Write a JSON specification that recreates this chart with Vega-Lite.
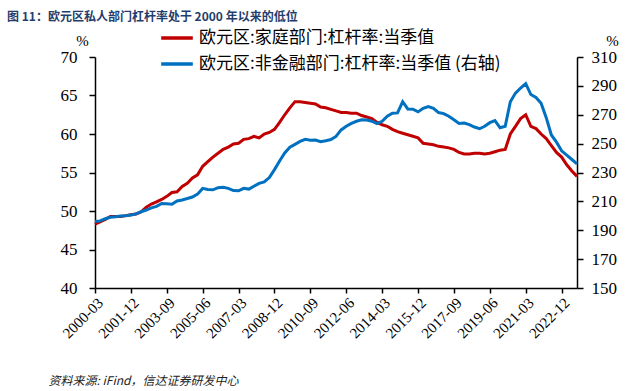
{
  "$schema": "https://vega.github.io/schema/vega-lite/v6.json",
  "width": 482,
  "height": 231,
  "autosize": {"type": "none"},
  "padding": {"left": 95, "top": 57, "right": 67, "bottom": 103},
  "background": "white",
  "title": {
    "text": "图 11：欧元区私人部门杠杆率处于 2000 年以来的低位",
    "anchor": "start",
    "frame": "group",
    "dx": -88,
    "dy": 2,
    "offset": -2,
    "fontSize": 12,
    "fontWeight": "bold",
    "color": "#1f3e6d",
    "font": "Noto Sans CJK SC"
  },
  "config": {
    "view": {"stroke": null},
    "axis": {
      "grid": false,
      "domainColor": "#000",
      "domainWidth": 1.5,
      "tickColor": "#000",
      "tickWidth": 1.5,
      "tickSize": 6,
      "labelColor": "#000",
      "labelFont": "serif",
      "titleFont": "serif",
      "titleFontWeight": "normal",
      "titleColor": "#000"
    },
    "legend": {
      "orient": "none",
      "legendX": 64,
      "legendY": -37,
      "direction": "vertical",
      "symbolType": "stroke",
      "symbolSize": 1000,
      "symbolStrokeWidth": 3.5,
      "labelFont": "Noto Sans CJK SC",
      "labelFontSize": 17,
      "labelColor": "#000",
      "labelLimit": 0,
      "rowPadding": -14,
      "labelOffset": 4,
      "title": null
    }
  },
  "data": {
    "values": [
      {"d": "2000-03", "hh": 48.3, "nf": 196},
      {"d": "2000-06", "hh": 48.6, "nf": 196.5},
      {"d": "2000-09", "hh": 48.9, "nf": 198},
      {"d": "2000-12", "hh": 49.3, "nf": 199},
      {"d": "2001-03", "hh": 49.3, "nf": 199.3},
      {"d": "2001-06", "hh": 49.3, "nf": 199.8},
      {"d": "2001-09", "hh": 49.4, "nf": 200},
      {"d": "2001-12", "hh": 49.5, "nf": 200.5},
      {"d": "2002-03", "hh": 49.6, "nf": 201.3},
      {"d": "2002-06", "hh": 49.9, "nf": 202.8},
      {"d": "2002-09", "hh": 50.5, "nf": 204},
      {"d": "2002-12", "hh": 50.9, "nf": 205.5},
      {"d": "2003-03", "hh": 51.2, "nf": 206.5},
      {"d": "2003-06", "hh": 51.5, "nf": 208.5},
      {"d": "2003-09", "hh": 51.9, "nf": 208.3},
      {"d": "2003-12", "hh": 52.4, "nf": 208},
      {"d": "2004-03", "hh": 52.5, "nf": 210.3},
      {"d": "2004-06", "hh": 53.2, "nf": 211},
      {"d": "2004-09", "hh": 53.6, "nf": 212},
      {"d": "2004-12", "hh": 54.3, "nf": 213},
      {"d": "2005-03", "hh": 54.7, "nf": 215},
      {"d": "2005-06", "hh": 55.8, "nf": 219},
      {"d": "2005-09", "hh": 56.4, "nf": 218.3},
      {"d": "2005-12", "hh": 57.0, "nf": 218},
      {"d": "2006-03", "hh": 57.5, "nf": 219.5},
      {"d": "2006-06", "hh": 58.0, "nf": 219.8},
      {"d": "2006-09", "hh": 58.3, "nf": 219},
      {"d": "2006-12", "hh": 58.7, "nf": 217.5},
      {"d": "2007-03", "hh": 58.8, "nf": 217.3},
      {"d": "2007-06", "hh": 59.3, "nf": 219},
      {"d": "2007-09", "hh": 59.4, "nf": 218.5},
      {"d": "2007-12", "hh": 59.7, "nf": 220.5},
      {"d": "2008-03", "hh": 59.5, "nf": 222.5},
      {"d": "2008-06", "hh": 60.0, "nf": 223.5},
      {"d": "2008-09", "hh": 60.2, "nf": 226.5},
      {"d": "2008-12", "hh": 60.6, "nf": 232},
      {"d": "2009-03", "hh": 61.5, "nf": 238},
      {"d": "2009-06", "hh": 62.5, "nf": 243.5},
      {"d": "2009-09", "hh": 63.4, "nf": 247.5},
      {"d": "2009-12", "hh": 64.2, "nf": 249.5},
      {"d": "2010-03", "hh": 64.2, "nf": 251.5},
      {"d": "2010-06", "hh": 64.1, "nf": 253},
      {"d": "2010-09", "hh": 64.0, "nf": 252.3},
      {"d": "2010-12", "hh": 63.9, "nf": 252.5},
      {"d": "2011-03", "hh": 63.5, "nf": 251.3},
      {"d": "2011-06", "hh": 63.4, "nf": 252},
      {"d": "2011-09", "hh": 63.2, "nf": 252.8},
      {"d": "2011-12", "hh": 63.0, "nf": 255},
      {"d": "2012-03", "hh": 62.8, "nf": 259.5},
      {"d": "2012-06", "hh": 62.8, "nf": 262},
      {"d": "2012-09", "hh": 62.7, "nf": 264},
      {"d": "2012-12", "hh": 62.7, "nf": 265.5},
      {"d": "2013-03", "hh": 62.4, "nf": 266.5},
      {"d": "2013-06", "hh": 62.2, "nf": 266.3},
      {"d": "2013-09", "hh": 62.0, "nf": 265.5},
      {"d": "2013-12", "hh": 61.5, "nf": 263.8},
      {"d": "2014-03", "hh": 61.2, "nf": 265.5},
      {"d": "2014-06", "hh": 61.0, "nf": 269},
      {"d": "2014-09", "hh": 60.6, "nf": 271},
      {"d": "2014-12", "hh": 60.3, "nf": 271.3},
      {"d": "2015-03", "hh": 60.1, "nf": 279},
      {"d": "2015-06", "hh": 59.9, "nf": 274},
      {"d": "2015-09", "hh": 59.7, "nf": 273.8},
      {"d": "2015-12", "hh": 59.5, "nf": 272},
      {"d": "2016-03", "hh": 58.8, "nf": 274.5},
      {"d": "2016-06", "hh": 58.7, "nf": 275.7},
      {"d": "2016-09", "hh": 58.6, "nf": 274.5},
      {"d": "2016-12", "hh": 58.4, "nf": 271.5},
      {"d": "2017-03", "hh": 58.3, "nf": 270.8},
      {"d": "2017-06", "hh": 58.2, "nf": 269},
      {"d": "2017-09", "hh": 58.0, "nf": 266.5},
      {"d": "2017-12", "hh": 57.6, "nf": 264},
      {"d": "2018-03", "hh": 57.4, "nf": 264.3},
      {"d": "2018-06", "hh": 57.4, "nf": 263.2},
      {"d": "2018-09", "hh": 57.5, "nf": 261.5},
      {"d": "2018-12", "hh": 57.5, "nf": 260.3},
      {"d": "2019-03", "hh": 57.4, "nf": 262},
      {"d": "2019-06", "hh": 57.5, "nf": 264.5},
      {"d": "2019-09", "hh": 57.7, "nf": 266},
      {"d": "2019-12", "hh": 57.9, "nf": 261},
      {"d": "2020-03", "hh": 58.0, "nf": 262},
      {"d": "2020-06", "hh": 60.0, "nf": 279},
      {"d": "2020-09", "hh": 61.0, "nf": 285},
      {"d": "2020-12", "hh": 62.0, "nf": 288.5},
      {"d": "2021-03", "hh": 62.5, "nf": 291.5},
      {"d": "2021-06", "hh": 61.0, "nf": 284},
      {"d": "2021-09", "hh": 60.7, "nf": 282},
      {"d": "2021-12", "hh": 60.0, "nf": 278},
      {"d": "2022-03", "hh": 59.4, "nf": 268},
      {"d": "2022-06", "hh": 58.5, "nf": 256},
      {"d": "2022-09", "hh": 57.6, "nf": 251},
      {"d": "2022-12", "hh": 57.0, "nf": 245},
      {"d": "2023-03", "hh": 56.0, "nf": 242},
      {"d": "2023-06", "hh": 55.2, "nf": 239},
      {"d": "2023-09", "hh": 54.5, "nf": 236}
    ]
  },
  "encoding": {
    "x": {
      "field": "d",
      "type": "ordinal",
      "scale": {"type": "point", "padding": 0},
      "axis": {
        "values": ["2000-03", "2001-12", "2003-09", "2005-06", "2007-03", "2008-12", "2010-09", "2012-06", "2014-03", "2015-12", "2017-09", "2019-06", "2021-03", "2022-12"],
        "labelAngle": -45,
        "labelFontSize": 15,
        "tickSize": 5,
        "labelPadding": 2,
        "title": "资料来源: iFind，信达证券研发中心",
        "titleFont": "Noto Sans CJK SC",
        "titleFontStyle": "italic",
        "titleFontSize": 12,
        "titleColor": "#222",
        "titleAnchor": "start",
        "titleAlign": "left",
        "titleBaseline": "middle",
        "titleX": -47,
        "titleY": 92
      }
    }
  },
  "layer": [
    {
      "mark": {"type": "line", "strokeWidth": 3, "interpolate": "linear"},
      "encoding": {
        "y": {
          "field": "hh",
          "type": "quantitative",
          "scale": {"domain": [40, 70], "nice": false, "zero": false},
          "axis": {
            "values": [40, 45, 50, 55, 60, 65, 70],
            "labelFontSize": 17,
            "labelPadding": 12,
            "title": "%",
            "titleAngle": 0,
            "titleFontSize": 15,
            "titleAlign": "center",
            "titleBaseline": "middle",
            "titleX": -13,
            "titleY": -17
          }
        },
        "color": {
          "datum": "欧元区:家庭部门:杠杆率:当季值",
          "type": "nominal",
          "scale": {
            "domain": ["欧元区:家庭部门:杠杆率:当季值", "欧元区:非金融部门:杠杆率:当季值 (右轴)"],
            "range": ["#c00000", "#0070c0"]
          }
        }
      }
    },
    {
      "mark": {"type": "line", "strokeWidth": 3, "interpolate": "linear"},
      "encoding": {
        "y": {
          "field": "nf",
          "type": "quantitative",
          "scale": {"domain": [150, 310], "nice": false, "zero": false},
          "axis": {
            "orient": "right",
            "values": [150, 170, 190, 210, 230, 250, 270, 290, 310],
            "labelFontSize": 17,
            "labelPadding": 8,
            "title": "%",
            "titleAngle": 0,
            "titleFontSize": 15,
            "titleAlign": "center",
            "titleBaseline": "middle",
            "titleX": 35,
            "titleY": -17
          }
        },
        "color": {
          "datum": "欧元区:非金融部门:杠杆率:当季值 (右轴)",
          "type": "nominal"
        }
      }
    }
  ],
  "resolve": {"scale": {"y": "independent"}}
}
